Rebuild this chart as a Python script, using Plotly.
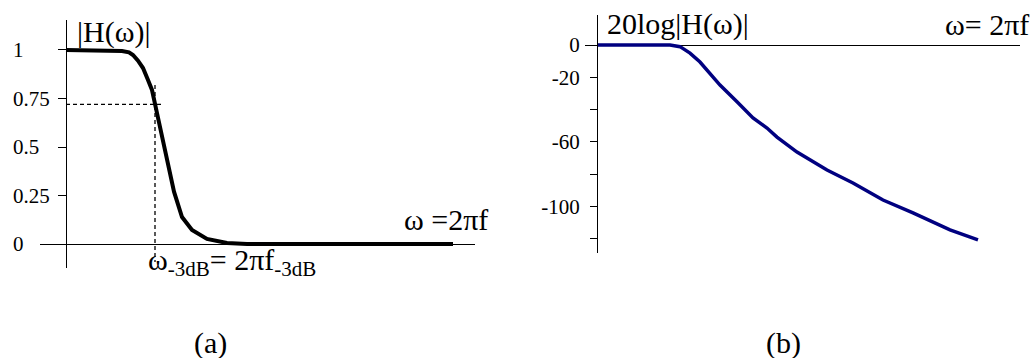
import plotly.graph_objects as go

W, H = 1034, 358

# (a) magnitude response |H(w)|
mag_w = [0, 4.7, 5.6, 6.3, 6.7, 7.2, 7.7, 8.2, 8.6, 9.1, 9.7, 10.4, 10.8, 11.6, 12.6, 14.1, 16.1, 18.1, 38.7]
mag_h = [1.0, 1.0, 0.995, 0.988, 0.974, 0.945, 0.907, 0.845, 0.794, 0.675, 0.536, 0.381, 0.27,
         0.139, 0.072, 0.026, 0.005, 0.0, 0.0]
mag_ticks = [0, 0.25, 0.5, 0.75, 1]
mag_tick_text = ["0", "0.25", "0.5", "0.75", "1"]
cutoff_w = 8.9
cutoff_h = 0.72

# (b) 20log|H(w)| in dB
db_w = [0, 7.3, 8.3, 9.3, 10.3, 11.3, 12.3, 14.0, 15.6, 17.0, 18.0, 20.0, 23.0, 25.6, 28.6, 31.6, 35.3, 38.1]
db_h = [0, 0, -1.0, -5.0, -10.5, -17.3, -24.8, -35.1, -45.2, -51.4, -57.0, -66.3, -77.4, -85.4,
        -96.0, -104.0, -114.5, -120.7]
db_ticks = [0, -20, -60, -100]
db_tick_text = ["0", "-20", "-60", "-100"]
db_minor_ticks = [-40, -80, -120]

SERIF = "Liberation Serif"


def px(x):
    return x / W


def py(y):
    return 1 - y / H


fig = go.Figure()

fig.add_trace(go.Scatter(x=[0, cutoff_w + 0.8], y=[cutoff_h, cutoff_h], mode="lines",
                         line=dict(color="black", width=1.3, dash="4px,3px"),
                         xaxis="x", yaxis="y", showlegend=False))
fig.add_trace(go.Scatter(x=[cutoff_w, cutoff_w], y=[0.82, -0.093], mode="lines",
                         line=dict(color="black", width=1.3, dash="4px,3px"),
                         xaxis="x", yaxis="y", showlegend=False))
fig.add_trace(go.Scatter(x=mag_w, y=mag_h, mode="lines",
                         line=dict(color="black", width=4),
                         xaxis="x", yaxis="y", showlegend=False))
fig.add_trace(go.Scatter(x=db_w, y=db_h, mode="lines",
                         line=dict(color="#000080", width=3.5),
                         xaxis="x2", yaxis="y2", showlegend=False))

axis_off = dict(showgrid=False, showticklabels=False, showline=False, zeroline=False, ticks="")

fig.update_layout(
    width=W, height=H,
    margin=dict(l=0, r=0, t=0, b=0),
    paper_bgcolor="white", plot_bgcolor="rgba(0,0,0,0)",
    font=dict(family=SERIF, color="black", size=21),
    xaxis=dict(domain=[px(40), px(475)], range=[-2.6, 40.9], anchor="y", **axis_off),
    yaxis=dict(domain=[py(268), py(20)], range=[-0.1237, 1.1546], anchor="free", position=px(66),
               showgrid=False, showline=True, linecolor="black", linewidth=1,
               zeroline=True, zerolinecolor="black", zerolinewidth=1,
               ticks="outside", ticklen=8, tickcolor="black", tickwidth=1,
               tickvals=mag_ticks, showticklabels=False),
    xaxis2=dict(domain=[px(585), px(1020)], range=[-1.2, 42.3], anchor="y2", **axis_off),
    yaxis2=dict(domain=[py(253), py(15)], range=[-128.8, 18.6], anchor="free", position=px(597),
                showgrid=False, showline=True, linecolor="black", linewidth=1,
                zeroline=True, zerolinecolor="black", zerolinewidth=1,
                ticks="outside", ticklen=7, tickcolor="black", tickwidth=1,
                tickvals=db_ticks, ticktext=db_tick_text, ticklabelstandoff=6,
                tickfont=dict(family=SERIF, size=21),
                minor=dict(tickvals=db_minor_ticks, ticks="outside", ticklen=7,
                           tickcolor="black", tickwidth=1, showgrid=False)),
)

ann = []
for v, t in zip(mag_ticks, mag_tick_text):
    ann.append(dict(x=px(11), y=v, xref="paper", yref="y", text=t, showarrow=False,
                    xanchor="left", yanchor="middle", font=dict(family=SERIF, size=21)))

big = dict(showarrow=False, xref="paper", yref="paper", font=dict(family=SERIF, size=30))
ann += [
    dict(x=px(75), y=py(32), text="|H(ω)|", xanchor="left", yanchor="middle", **big),
    dict(x=px(402), y=py(219), text="ω =2πf", xanchor="left", yanchor="middle", **big),
    dict(x=px(146), y=py(262), text="ω<sub>-3dB</sub>= 2πf<sub>-3dB</sub>",
         xanchor="left", yanchor="middle", **big),
    dict(x=px(605), y=py(24), text="20log|H(ω)|", xanchor="left", yanchor="middle", **big),
    dict(x=px(1031), y=py(24), text="ω= 2πf", xanchor="right", yanchor="middle", **big),
    dict(x=px(210), y=py(343), text="(a)", xanchor="center", yanchor="middle", **big),
    dict(x=px(783), y=py(343), text="(b)", xanchor="center", yanchor="middle", **big),
]
fig.update_layout(annotations=ann)

fig.write_html("out.html", config={"displayModeBar": False},
               post_script="document.body.style.margin='0';")
